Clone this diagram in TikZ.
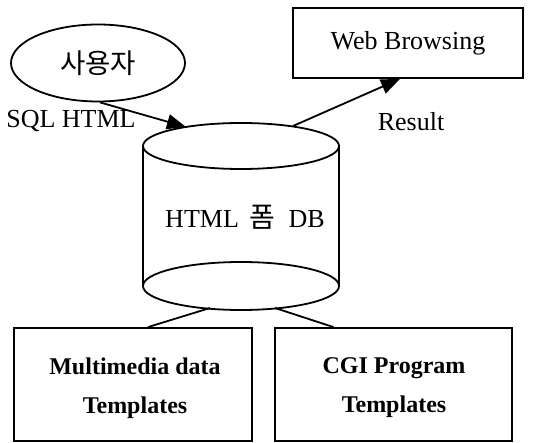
\documentclass[tikz,border=0pt]{standalone}
\usepackage{fontspec}
\setmainfont{Liberation Serif}
\newfontfamily\kr{Noto Sans CJK KR}
\usetikzlibrary{arrows.meta,shapes.geometric}
\begin{document}
\begin{tikzpicture}[x=1pt,y=-1pt,
  line width=1.8pt,
  lbl/.style={font=\fontsize{26}{30}\selectfont, inner sep=0pt},
  boxtext/.style={font=\bfseries\fontsize{24}{39}\selectfont, align=center, inner sep=0pt},
  flow/.style={-{Triangle[length=19pt,width=15pt]}},
  link/.style={line width=1.8pt}]
\useasboundingbox (0,0) rectangle (533,443);

% user ellipse
\node[draw, ellipse, minimum width=174pt, minimum height=77pt, inner sep=0pt,
      font=\kr\fontsize{27.5}{30}\selectfont] (user) at (98,63) {사용자};

% web browsing box
\node[draw, rectangle, minimum width=230pt, minimum height=70pt, inner sep=0pt, lbl]
  (web) at (408,43) {Web Browsing};

% database cylinder
\draw (143,146) -- (143,286);
\draw (339,146) -- (339,286);
\draw (241,146) ellipse [x radius=98, y radius=23];
\draw (241,286) ellipse [x radius=98, y radius=24];
\node[lbl] (db) at (245,217) {HTML\hspace{11pt}{\kr\fontsize{28}{30}\selectfont 폼}\hspace{13pt}DB};
\coordinate (dbin) at (186,127);
\coordinate (dbout) at (293,126);
\coordinate (dbl) at (210,308);
\coordinate (dbr) at (275,308);

% template boxes
\node[draw, rectangle, minimum width=238pt, minimum height=113pt, inner sep=0pt]
  (mm) at (133,384.5) {};
\node[boxtext] (mmt) at (135,388) {Multimedia data\\Templates};
\node[draw, rectangle, minimum width=237pt, minimum height=113pt, inner sep=0pt]
  (cgi) at (393.5,384.5) {};
\node[boxtext] (cgit) at (394,388) {CGI Program\\Templates};

% labels
\node[lbl] (sql) at (71,121) {SQL HTML};
\node[lbl] (res) at (411,122) {Result};

% connectors
\draw[flow] ([xshift=2pt]user.south) -- (dbin);
\draw[flow] (dbout) -- ([xshift=-8pt]web.south);
\draw[link] (dbl) -- ([xshift=15pt]mm.north);
\draw[link] (dbr) -- ([xshift=-60pt]cgi.north);
\end{tikzpicture}
\end{document}
